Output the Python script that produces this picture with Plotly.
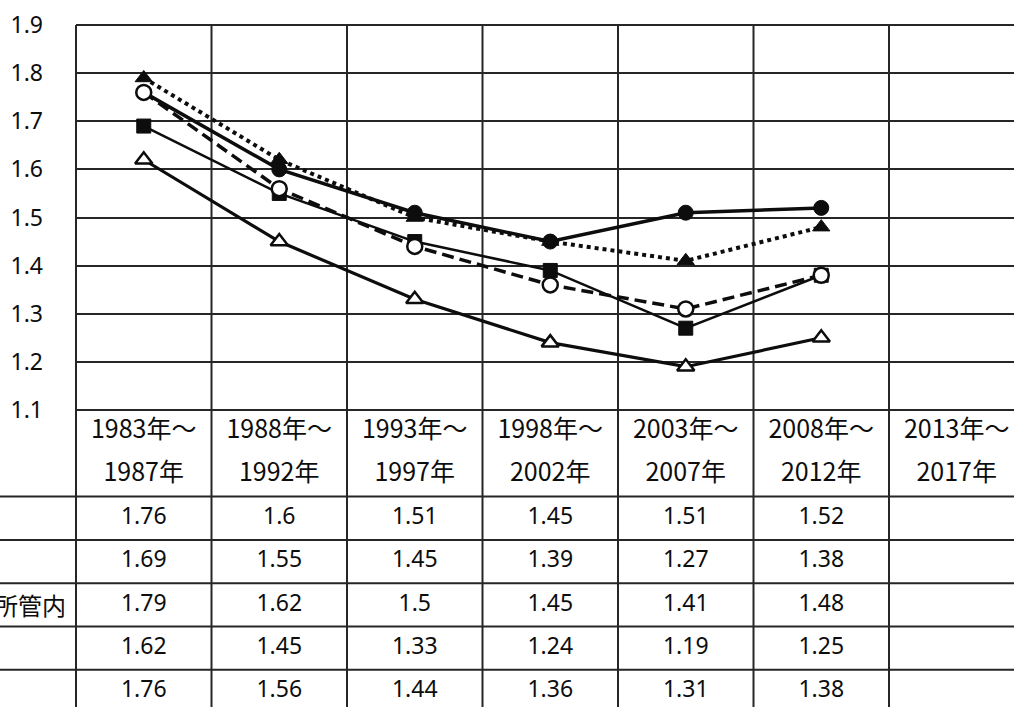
import plotly.graph_objects as go

# ---------------- data ----------------
categories = ["1983年～1987年", "1988年～1992年", "1993年～1997年", "1998年～2002年",
              "2003年～2007年", "2008年～2012年", "2013年～2017年"]
header_line1 = ["1983年～", "1988年～", "1993年～", "1998年～", "2003年～", "2008年～", "2013年～"]
header_line2 = ["1987年", "1992年", "1997年", "2002年", "2007年", "2012年", "2017年"]

series_a = [1.76, 1.6, 1.51, 1.45, 1.51, 1.52]   # filled circle, solid
series_b = [1.69, 1.55, 1.45, 1.39, 1.27, 1.38]  # filled square, solid thin
series_c = [1.79, 1.62, 1.5, 1.45, 1.41, 1.48]   # filled triangle, dotted (所管内)
series_d = [1.62, 1.45, 1.33, 1.24, 1.19, 1.25]  # open triangle, solid
series_e = [1.76, 1.56, 1.44, 1.36, 1.31, 1.38]  # open circle, dashed
row_labels = ["", "", "所管内", "", ""]

y_ticks = [1.1, 1.2, 1.3, 1.4, 1.5, 1.6, 1.7, 1.8, 1.9]

# ---------------- layout constants ----------------
W, H = 1014, 707
ML, MT = 76, 25
chart_bottom_px = 410
dom_split = (H - chart_bottom_px) / (H - MT)
row_px = 43.3
y2_max = (H - chart_bottom_px) / row_px

INK = "#0d0d0d"
GRID = "#262626"
FONT_NUM = "Noto Sans"
FONT_JP = "Noto Sans CJK JP"

fig = go.Figure()

styles = [
    (series_a, dict(symbol="circle", size=15, color=INK, line=dict(width=1, color=INK)), dict(width=3.5, dash="solid")),
    (series_b, dict(symbol="square", size=14, color=INK, line=dict(width=1, color=INK)), dict(width=2.5, dash="solid")),
    (series_c, dict(symbol="triangle-up", size=15, color=INK, line=dict(width=1, color=INK)), dict(width=4, dash="4px,4px")),
    (series_d, dict(symbol="triangle-up", size=15, color="white", line=dict(width=2.5, color=INK)), dict(width=3.2, dash="solid")),
    (series_e, dict(symbol="circle", size=15, color="white", line=dict(width=2.5, color=INK)), dict(width=3.5, dash="12px,6px")),
]
for vals, mk, ln in styles:
    fig.add_trace(go.Scatter(
        x=categories[:len(vals)], y=vals, mode="lines+markers",
        marker=mk, line=dict(color=INK, **ln), xaxis="x", yaxis="y",
        showlegend=False, cliponaxis=False))

# table header
for yv, lines in ((0.5, header_line1), (1.5, header_line2)):
    fig.add_trace(go.Scatter(x=categories, y=[yv] * len(categories), mode="text",
                             text=lines, textfont=dict(family=FONT_JP, size=25, color=INK),
                             xaxis="x", yaxis="y2", showlegend=False))
# table values
for i, vals in enumerate([series_a, series_b, series_c, series_d, series_e]):
    fig.add_trace(go.Scatter(x=categories[:len(vals)], y=[2.5 + i] * len(vals), mode="text",
                             text=[f"{v:g}" for v in vals],
                             textfont=dict(family=FONT_NUM, size=23, color=INK),
                             xaxis="x", yaxis="y2", showlegend=False))

shapes = []
lw = 2
n = len(categories)
for i in range(1, n):
    shapes.append(dict(type="line", xref="x", yref="paper", x0=i - 0.5, x1=i - 0.5, y0=0, y1=1,
                       line=dict(color=GRID, width=lw), layer="below"))
shapes.append(dict(type="line", xref="paper", yref="paper", x0=0, x1=0, y0=0, y1=1,
                   line=dict(color=GRID, width=lw)))
shapes.append(dict(type="line", xref="paper", yref="paper", x0=0, x1=1.1, y0=1, y1=1,
                   line=dict(color=GRID, width=lw)))
shapes.append(dict(type="line", xref="paper", yref="paper", x0=0, x1=1.1, y0=dom_split, y1=dom_split,
                   line=dict(color=GRID, width=lw)))
for r in range(2, 7):
    shapes.append(dict(type="line", xref="paper", yref="y2", x0=-0.2, x1=1.1, y0=r, y1=r,
                       line=dict(color=GRID, width=lw)))

annotations = []
for i, lab in enumerate(row_labels):
    if lab:
        annotations.append(dict(xref="paper", yref="y2", x=-8 / (W - ML), y=2.5 + i, text=lab,
                                showarrow=False, xanchor="right", yanchor="middle",
                                font=dict(family=FONT_JP, size=24, color=INK)))

fig.update_layout(
    width=W, height=H,
    margin=dict(l=ML, r=0, t=MT, b=0, autoexpand=False),
    paper_bgcolor="white", plot_bgcolor="white",
    xaxis=dict(type="category", categoryarray=categories, categoryorder="array",
               range=[-0.5, n - 0.5 - 10.5 / 135.5], showticklabels=False, showgrid=False,
               zeroline=False, showline=False, ticks="", anchor="y", automargin=False),
    yaxis=dict(domain=[dom_split, 1], range=[1.1, 1.9], tickvals=y_ticks,
               ticktext=[f"{v:.1f}" for v in y_ticks], showgrid=True, gridcolor=GRID, gridwidth=lw,
               zeroline=False, showline=False, ticks="", ticklabelstandoff=32, automargin=False,
               tickfont=dict(family=FONT_NUM, size=23, color=INK), anchor="x"),
    yaxis2=dict(domain=[0, dom_split], range=[y2_max, 0], visible=False, anchor="x", automargin=False),
    shapes=shapes, annotations=annotations,
)

fig.write_html("out.html", config={"displayModeBar": False},
               post_script="document.body.style.margin='0';document.body.style.overflow='hidden';")
